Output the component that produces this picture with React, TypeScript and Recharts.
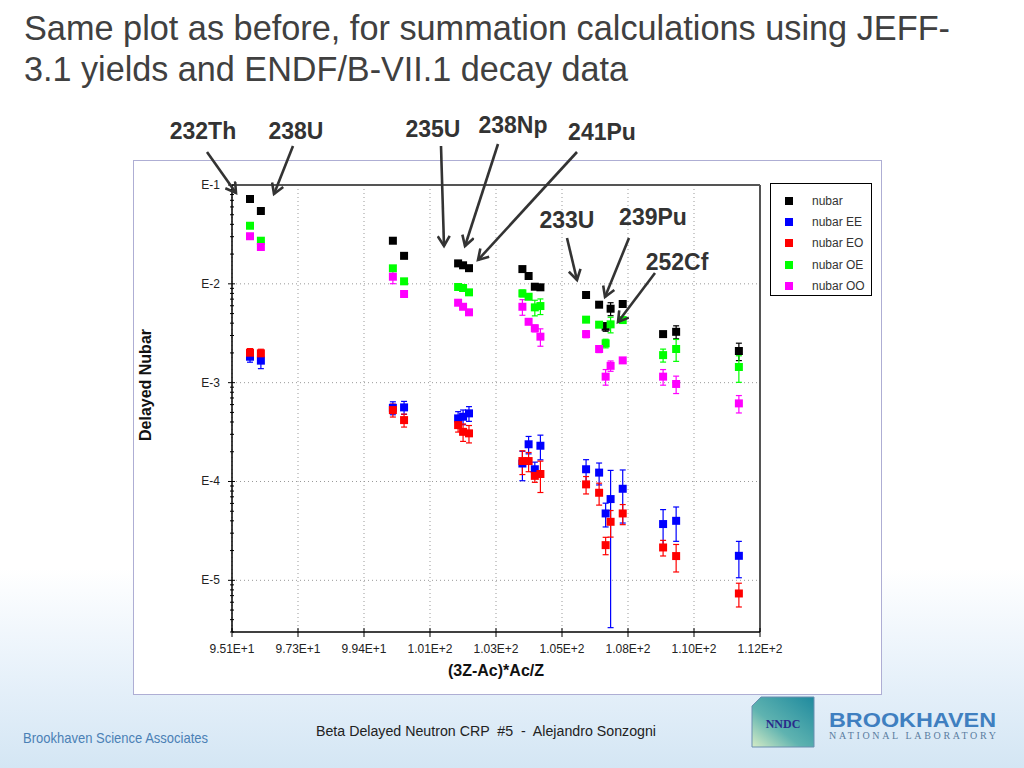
import {
  ScatterChart,
  Scatter,
  XAxis,
  YAxis,
  ZAxis,
  CartesianGrid,
  ReferenceLine,
  ErrorBar,
  Legend,
} from "recharts";

// (3Z-Ac)*Ac/Z of each fissioning system
const positions = [
  95.68, 96.03, 100.28, 100.64, 102.38, 102.54, 102.73, 104.45, 104.65, 104.85,
  105.03, 106.5, 106.92, 107.13, 107.29, 107.68, 108.98, 109.4, 111.42,
];

const nubar = [
  0.0722, 0.0546, 0.0273, 0.0192, 0.0161, 0.0154, 0.0144, 0.0141, 0.012,
  0.00935, 0.00922, 0.00771, 0.00615, 0.00368, 0.0056, 0.00625, 0.0031,
  0.00327, 0.00209,
];
const nubarErr = [3, 3, 3, 3, 3, 3, 3, 4, 4, 5, 6, 4, 5, 10, 15, 5, 6, 15, 20];

const nubarEE = [
  0.00183, 0.00167, 0.000557, 0.000562, 0.000435, 0.000452, 0.000489,
  0.000152, 0.000238, 0.000133, 0.00023, 0.000133, 0.000123, 0.0000475,
  0.0000664, 0.0000844, 0.0000371, 0.00004, 0.0000177,
];
const nubarEEErr = [12, 17, 15, 15, 17, 17, 17, 33, 20, 18, 28, 25, 25, 27, 95, 55, 40, 38, 40];

const nubarEO = [
  0.00201, 0.00198, 0.000528, 0.000418, 0.000372, 0.000318, 0.000307,
  0.000161, 0.000161, 0.000114, 0.000119, 0.0000935, 0.0000769, 0.0000227,
  0.0000391, 0.0000475, 0.0000215, 0.0000176, 0.00000736,
];
const nubarEOErr = [10, 10, 15, 15, 15, 20, 20, 27, 22, 14, 35, 20, 25, 20, 30, 23, 18, 31, 27];

const nubarOE = [
  0.0387, 0.0273, 0.01435, 0.0106, 0.00929, 0.00907, 0.0082, 0.00801, 0.0074,
  0.00578, 0.00596, 0.00434, 0.00386, 0.0025, 0.00389, 0.0043, 0.0019,
  0.00219, 0.00144,
];
const nubarOEErr = [3, 3, 4, 4, 5, 6, 5, 8, 6, 18, 18, 6, 6, 10, 18, 5, 15, 25, 30];

const nubarOO = [
  0.0303, 0.0236, 0.0118, 0.00789, 0.00644, 0.00586, 0.00515, 0.00586,
  0.00413, 0.00355, 0.00292, 0.0031, 0.00219, 0.00115, 0.00148, 0.00168,
  0.00115, 0.00097, 0.000617,
];
const nubarOOErr = [3, 3, 15, 4, 5, 5, 6, 18, 6, 8, 20, 8, 8, 18, 12, 5, 18, 20, 20];

const xTicks = [95.1, 97.225, 99.35, 101.475, 103.6, 105.725, 107.85, 109.975, 112.1];
const xTickLabels = ["9.51E+1", "9.73E+1", "9.94E+1", "1.01E+2", "1.03E+2", "1.05E+2", "1.08E+2", "1.10E+2", "1.12E+2"];
const yDecades = [1e-1, 1e-2, 1e-3, 1e-4, 1e-5];
const yDecadeLabels = ["E-1", "E-2", "E-3", "E-4", "E-5"];
const yMin = 3e-6;
const yMax = 0.1;

// minor log ticks 2..9 in every decade
const minorMult = [2, 3, 4, 5, 6, 7, 8, 9];
const yTicks: number[] = [...yDecades];
[1e-6, 1e-5, 1e-4, 1e-3, 1e-2].forEach((d) =>
  minorMult.forEach((m) => {
    const v = d * m;
    if (v >= yMin && v < yMax) yTicks.push(v);
  })
);

const series = [
  { name: "nubar", color: "#000000", values: nubar, errs: nubarErr },
  { name: "nubar EE", color: "#0000ff", values: nubarEE, errs: nubarEEErr },
  { name: "nubar EO", color: "#ff0000", values: nubarEO, errs: nubarEOErr },
  { name: "nubar OE", color: "#00ff00", values: nubarOE, errs: nubarOEErr },
  { name: "nubar OO", color: "#ff00ff", values: nubarOO, errs: nubarOOErr },
];

const toPoints = (vals: number[], errs: number[]) =>
  vals.map((v, i) => ({ x: positions[i], y: v, err: (v * errs[i]) / 100 }));

// annotation arrows (slide pixels)
const notes = [
  { label: "232Th", tx: 203, ty: 131, x1: 207, y1: 152, x2: 236, y2: 193 },
  { label: "238U", tx: 296, ty: 131, x1: 293, y1: 146, x2: 274, y2: 194 },
  { label: "235U", tx: 433, ty: 129, x1: 441, y1: 146, x2: 444, y2: 246 },
  { label: "238Np", tx: 513, ty: 125, x1: 498, y1: 144, x2: 465, y2: 246 },
  { label: "241Pu", tx: 602, ty: 132, x1: 577, y1: 152, x2: 478, y2: 260 },
  { label: "233U", tx: 567, ty: 220, x1: 567, y1: 238, x2: 577, y2: 280 },
  { label: "239Pu", tx: 653, ty: 217, x1: 629, y1: 238, x2: 605, y2: 297 },
  { label: "252Cf", tx: 677, ty: 262, x1: 655, y1: 273, x2: 618, y2: 322 },
];

const FONT = "'Liberation Sans', Arial, sans-serif";

const YTick = (props: any) => {
  const { x, y, payload } = props;
  const idx = yDecades.findIndex((d) => Math.abs(d - payload.value) < d * 1e-6);
  const major = idx >= 0;
  return (
    <g>
      <line x1={x - (major ? 4 : 2)} x2={x + (major ? 3 : 2)} y1={y} y2={y} stroke="#000" />
      {major && (
        <text x={x - 12} y={y} textAnchor="end" dominantBaseline="central" fontSize={12} fill="#222" fontFamily={FONT}>
          {yDecadeLabels[idx]}
        </text>
      )}
    </g>
  );
};

const XTick = (props: any) => {
  const { x, y, index } = props;
  return (
    <g>
      <line x1={x} x2={x} y1={y - 4} y2={y + 5} stroke="#000" />
      <text x={x} y={y + 17} textAnchor="middle" dominantBaseline="central" fontSize={12} fill="#222" fontFamily={FONT}>
        {xTickLabels[index]}
      </text>
    </g>
  );
};

const LegendBox = (props: any) => {
  const payload = props.payload || [];
  return (
    <div style={{ border: "1px solid #000", width: 102, height: 113, boxSizing: "border-box", background: "#fff", paddingTop: 6 }}>
      {payload.map((p: any) => (
        <div key={p.value} style={{ display: "flex", alignItems: "center", height: 21.3 }}>
          <span style={{ display: "inline-block", width: 8, height: 8, background: p.color, marginLeft: 14, marginRight: 19 }} />
          <span style={{ fontSize: 12, color: "#333", fontFamily: FONT }}>{p.value}</span>
        </div>
      ))}
    </div>
  );
};

const App = () => {
  return (
    <div
      style={{
        position: "absolute",
        left: 0,
        top: 0,
        width: 1024,
        height: 768,
        overflow: "hidden",
        fontFamily: FONT,
        background: "linear-gradient(180deg, #ffffff 0%, #ffffff 74%, #e7f1fa 88%, #d4e6f4 100%)",
      }}
    >
      <div
        style={{
          position: "absolute",
          left: 133,
          top: 160,
          width: 749,
          height: 535,
          boxSizing: "border-box",
          border: "1.5px solid #aeaed4",
          background: "#fff",
        }}
      />
      <div style={{ position: "absolute", left: 133, top: 160 }}>
        <ScatterChart width={749} height={535} margin={{ top: 25, right: 122, bottom: 23, left: 39 }}>
          <CartesianGrid horizontal={false} strokeDasharray="1 3" stroke="#999" />
          {yDecades.slice(1).map((d) => (
            <ReferenceLine key={d} y={d} stroke="#999" strokeDasharray="1 3" />
          ))}
          <ReferenceLine y={yMax} stroke="#555" strokeWidth={2} />
          <ReferenceLine x={xTicks[xTicks.length - 1]} stroke="#555" strokeWidth={2} />
          <XAxis
            type="number"
            dataKey="x"
            domain={[xTicks[0], xTicks[xTicks.length - 1]]}
            ticks={xTicks}
            allowDataOverflow
            height={40}
            tickSize={0}
            tickMargin={0}
            tickLine={false}
            tick={<XTick />}
            interval={0}
            axisLine={{ stroke: "#000", strokeWidth: 1.5 }}
            label={(p: any) => {
              const vb = p.viewBox;
              return (
                <text x={vb.x + vb.width / 2} y={vb.y + 38} textAnchor="middle" dominantBaseline="central" fontSize={16} fontWeight="bold" fill="#111" fontFamily={FONT}>
                  (3Z-Ac)*Ac/Z
                </text>
              );
            }}
          />
          <YAxis
            type="number"
            dataKey="y"
            scale="log"
            domain={[yMin, yMax]}
            ticks={yTicks}
            allowDataOverflow
            width={60}
            tickSize={0}
            tickMargin={0}
            tickLine={false}
            tick={<YTick />}
            interval={0}
            axisLine={{ stroke: "#000", strokeWidth: 1.5 }}
            label={(p: any) => {
              const vb = p.viewBox;
              const cx = vb.x - 27;
              const cy = vb.y + 200;
              return (
                <text x={cx} y={cy} transform={`rotate(-90 ${cx} ${cy})`} textAnchor="middle" dominantBaseline="central" fontSize={16} fontWeight="bold" fill="#111" fontFamily={FONT}>
                  Delayed Nubar
                </text>
              );
            }}
          />
          <ZAxis range={[81, 81]} />
          <Legend
            layout="vertical"
            align="center"
            verticalAlign="middle"
            content={<LegendBox />}
            wrapperStyle={{ left: 637, top: 23, width: 102 }}
          />
          {series.map((s) => (
            <Scatter
              key={s.name}
              name={s.name}
              data={toPoints(s.values, s.errs)}
              fill={s.color}
              shape="square"
              isAnimationActive={false}
            >
              <ErrorBar dataKey="err" direction="y" width={3} stroke={s.color} strokeWidth={1.2} />
            </Scatter>
          ))}
        </ScatterChart>
      </div>

      <svg width={1024} height={768} style={{ position: "absolute", left: 0, top: 0, pointerEvents: "none" }}>
        <defs>
          <marker id="head" markerWidth="14" markerHeight="14" refX="11" refY="7" orient="auto" markerUnits="userSpaceOnUse">
            <path d="M1,1 L11,7 L1,13" fill="none" stroke="#333" strokeWidth="2.6" />
          </marker>
          <linearGradient id="nndc" x1="1" y1="0" x2="0" y2="1">
            <stop offset="0%" stopColor="#1f8a9e" />
            <stop offset="60%" stopColor="#5fb3b0" />
            <stop offset="100%" stopColor="#d6ecc6" />
          </linearGradient>
        </defs>
        <text x={24} y={40} fontSize={35} fill="#404040" fontFamily={FONT} textLength={926} lengthAdjust="spacingAndGlyphs">
          Same plot as before, for summation calculations using JEFF-
        </text>
        <text x={24} y={81} fontSize={35} fill="#404040" fontFamily={FONT} textLength={604} lengthAdjust="spacingAndGlyphs">
          3.1 yields and ENDF/B-VII.1 decay data
        </text>
        {notes.map((n) => (
          <g key={n.label}>
            <text x={n.tx} y={n.ty} textAnchor="middle" dominantBaseline="central" fontSize={23} fontWeight="bold" fill="#333" fontFamily={FONT}>
              {n.label}
            </text>
            <line x1={n.x1} y1={n.y1} x2={n.x2} y2={n.y2} stroke="#333" strokeWidth={2.6} markerEnd="url(#head)" />
          </g>
        ))}
        <text x={23} y={743} fontSize={15} fill="#4a80b5" fontFamily={FONT} textLength={185} lengthAdjust="spacingAndGlyphs">
          Brookhaven Science Associates
        </text>
        <text x={316} y={736} fontSize={14} fill="#222" fontFamily={FONT} textLength={340} lengthAdjust="spacingAndGlyphs" style={{ whiteSpace: "pre" }}>
          {"Beta Delayed Neutron CRP  #5  -  Alejandro Sonzogni"}
        </text>
        <path d="M752,706 L761,697 L814,697 L814,747 L752,747 Z" fill="url(#nndc)" stroke="#6a8fb0" strokeWidth={1} />
        <text x={783} y={724} textAnchor="middle" dominantBaseline="central" fontSize={12} fontWeight="bold" fill="#2a2a8a" fontFamily="'Liberation Serif', serif">
          NNDC
        </text>
        <text x={829} y={727} fontSize={20} fontWeight="bold" fill="#3f7fc0" fontFamily={FONT} textLength={167} lengthAdjust="spacingAndGlyphs">
          BROOKHAVEN
        </text>
        <text x={829} y={739} fontSize={10} fill="#5a7ca0" fontFamily="'Liberation Serif', serif" textLength={167} lengthAdjust="spacing">
          NATIONAL LABORATORY
        </text>
      </svg>
    </div>
  );
};

export default App;
